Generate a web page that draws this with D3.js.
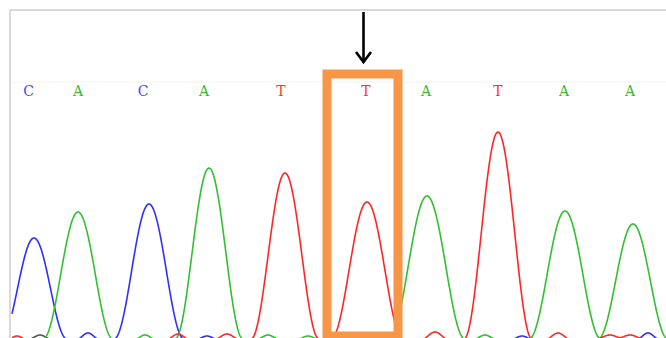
<!DOCTYPE html>
<html>
<head>
<meta charset="utf-8">
<script src="https://cdn.jsdelivr.net/npm/d3@7/dist/d3.min.js"></script>
<style>
  html, body { margin: 0; padding: 0; background: #ffffff; }
  svg { display: block; }
</style>
</head>
<body>
<svg id="chart" width="666" height="338"></svg>
<script>
// ---- data (scan position, intensity) ----
// base calls
const baseCalls = ["C", "A", "C", "A", "T", "T", "A", "T", "A", "A"];
const callPositions = [16.5, 66, 131, 192, 269, 354, 414, 486, 552, 618];

// peaks per channel: position (scan), height (intensity), half-base width (scan)
const peaksC = { pos: [22, 137, 76, 195, 510, 636], height: [1010, 1350, 60, 30, 30, 60], width: [33, 35, 11, 10, 10, 11] };
const peaksA = { pos: [66, 197, 415, 553, 621, 133, 256, 296, 473], height: [1270, 1710, 1430, 1280, 1150, 40, 40, 30, 40], width: [35, 34, 38, 36, 35, 10, 11, 10, 11] };
const peaksT = { pos: [273, 355, 486, 5, 166, 215, 423, 546, 598, 618], height: [1660, 1370, 2070, 30, 50, 50, 70, 60, 40, 40], width: [34, 36, 34, 9, 11, 12, 13, 12, 14, 14] };
const peaksG = { pos: [28], height: [40], width: [11] };

const channelColors = { A: "#30c030", C: "#2f2fff", G: "#555555", T: "#ff2525" };
const letterColors = { A: "#33bb33", C: "#4646ff", G: "#444444", T: "#ff3030" };

// ---- layout ----
const svg = d3.select("#chart");
const W = 666, H = 338;
const x = d3.scaleLinear().domain([0, 654]).range([12, 666]);
const y = d3.scaleLinear().domain([0, 2000]).range([339, 139]);

// frame
svg.append("line").attr("x1", 9).attr("x2", W).attr("y1", 10).attr("y2", 10)
  .attr("stroke", "#d9d9d9").attr("stroke-width", 2);
svg.append("line").attr("x1", 10).attr("x2", 10).attr("y1", 9).attr("y2", H)
  .attr("stroke", "#d9d9d9").attr("stroke-width", 2);
// faint guide under base calls
svg.append("line").attr("x1", 11).attr("x2", W).attr("y1", 82).attr("y2", 82)
  .attr("stroke", "#f4f4f4").attr("stroke-width", 1);

// traces
function trace(p) {
  const scans = d3.range(0, 654.5, 0.5);
  return scans.map(s => {
    let v = 0;
    for (let i = 0; i < p.pos.length; i++) {
      const d = s - p.pos[i];
      if (Math.abs(d) < p.width[i]) {
        const c = Math.cos(Math.PI * d / (2 * p.width[i]));
        v += p.height[i] * c * c;
      }
    }
    return [s, v];
  });
}
const line = d3.line().x(d => x(d[0])).y(d => y(d[1]));
const g = svg.append("g");
[["G", peaksG], ["C", peaksC], ["A", peaksA], ["T", peaksT]].forEach(([k, p]) => {
  g.append("path").attr("d", line(trace(p)))
    .attr("fill", "none").attr("stroke", channelColors[k])
    .attr("stroke-width", 1.6).attr("stroke-linejoin", "round");
});

// highlight box around the variant call
const hi = 5;
const boxL = x(callPositions[hi]) - 39, boxR = x(callPositions[hi]) + 32;
svg.append("rect")
  .attr("x", boxL).attr("y", 74)
  .attr("width", boxR - boxL).attr("height", 262)
  .attr("fill", "none").attr("stroke", "#f79646").attr("stroke-width", 9);

// base call letters
svg.append("g").selectAll("text").data(baseCalls).join("text")
  .attr("x", (d, i) => x(callPositions[i]))
  .attr("y", 95.5)
  .attr("text-anchor", "middle")
  .attr("font-family", "'DejaVu Serif', 'Liberation Serif', serif")
  .attr("font-size", 14)
  .attr("fill", d => letterColors[d])
  .text(d => d);

// arrow
const ax = x(callPositions[hi]) - 2.5;
svg.append("line").attr("x1", ax).attr("x2", ax).attr("y1", 12).attr("y2", 61)
  .attr("stroke", "#000").attr("stroke-width", 2.6);
svg.append("path")
  .attr("d", `M${ax - 7.5},52 L${ax},62 L${ax + 7.5},52`)
  .attr("fill", "none").attr("stroke", "#000").attr("stroke-width", 2.6)
  .attr("stroke-linejoin", "miter");
</script>
</body>
</html>
